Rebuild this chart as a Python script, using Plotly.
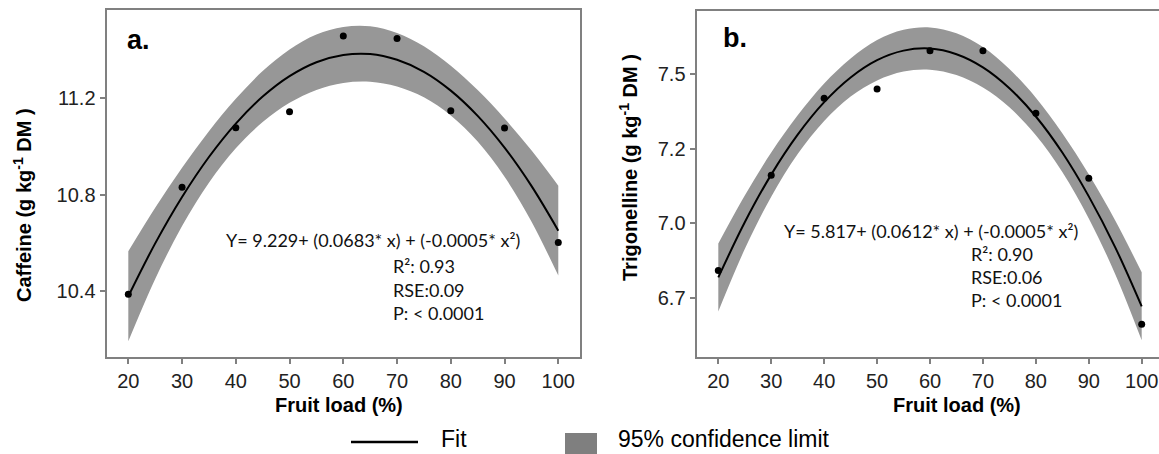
import plotly.graph_objects as go

W, H = 1159, 454

# ---------------- data ----------------
fruit_load = [20, 30, 40, 50, 60, 70, 80, 90, 100]
caffeine = [10.386, 10.830, 11.078, 11.144, 11.459, 11.449, 11.148, 11.077, 10.601]
trigonelline = [6.841, 7.161, 7.419, 7.450, 7.579, 7.579, 7.369, 7.151, 6.661]

fit_x = [20, 25, 30, 35, 40, 45, 50, 55, 60, 65, 70, 75, 80, 85, 90, 95, 100]
caffeine_fit = [10.377, 10.597, 10.790, 10.956, 11.095, 11.207, 11.292, 11.350, 11.380,
                11.384, 11.360, 11.310, 11.232, 11.127, 10.995, 10.836, 10.650]
caffeine_upper = [10.564, 10.745, 10.911, 11.063, 11.198, 11.313, 11.403, 11.465, 11.496,
                  11.499, 11.471, 11.416, 11.335, 11.234, 11.116, 10.984, 10.837]
caffeine_lower = [10.190, 10.449, 10.669, 10.849, 10.992, 11.101, 11.181, 11.235, 11.264,
                  11.269, 11.249, 11.204, 11.129, 11.020, 10.874, 10.688, 10.463]

trig_fit = [6.818, 7.003, 7.163, 7.297, 7.406, 7.489, 7.547, 7.579, 7.586,
            7.567, 7.523, 7.453, 7.358, 7.237, 7.090, 6.919, 6.721]
trig_upper = [6.932, 7.093, 7.237, 7.362, 7.469, 7.553, 7.615, 7.649, 7.657,
              7.637, 7.591, 7.517, 7.421, 7.302, 7.164, 7.009, 6.835]
trig_lower = [6.704, 6.913, 7.089, 7.232, 7.343, 7.425, 7.479, 7.509, 7.515,
              7.497, 7.455, 7.389, 7.295, 7.172, 7.016, 6.829, 6.607]

x_ticks = [20, 30, 40, 50, 60, 70, 80, 90, 100]
caf_ticks = [10.4, 10.8, 11.2]
caf_ticktext = ["10.4", "10.8", "11.2"]
trig_ticks = [6.75, 7.0, 7.25, 7.5]
trig_ticktext = ["6.7", "7.0", "7.2", "7.5"]

BAND = "#979797"
AXC = "#808080"
TICKFONT = dict(family="Liberation Sans, Arial", size=20, color="#222222")
ANNFONT = dict(family="Lato, Carlito, Calibri", size=18, color="#111111")

def px(x):
    return x / W

def py(y):
    return 1 - y / H

fig = go.Figure()

def add_panel(xa, ya, upper, lower, fit, pts):
    fig.add_trace(go.Scatter(x=fit_x, y=upper, mode="lines", line=dict(width=0, shape="spline", color=BAND),
                             xaxis=xa, yaxis=ya, showlegend=False, hoverinfo="skip"))
    fig.add_trace(go.Scatter(x=fit_x, y=lower, mode="lines", line=dict(width=0, shape="spline", color=BAND),
                             fill="tonexty", fillcolor=BAND,
                             xaxis=xa, yaxis=ya, showlegend=False, hoverinfo="skip"))
    fig.add_trace(go.Scatter(x=fit_x, y=fit, mode="lines", line=dict(width=2, shape="spline", color="black"),
                             xaxis=xa, yaxis=ya, showlegend=False))
    fig.add_trace(go.Scatter(x=fruit_load, y=pts, mode="markers", marker=dict(size=7, color="black"),
                             xaxis=xa, yaxis=ya, showlegend=False))

add_panel("x", "y", caffeine_upper, caffeine_lower, caffeine_fit, caffeine)
add_panel("x2", "y2", trig_upper, trig_lower, trig_fit, trigonelline)

common_x = dict(tickvals=x_ticks, ticks="outside", ticklen=6, tickcolor=AXC, tickwidth=1.5,
                showline=True, linecolor=AXC, linewidth=1.5, showgrid=False, zeroline=False,
                tickfont=TICKFONT)
common_y = dict(ticks="outside", ticklen=6, tickcolor=AXC, tickwidth=1.5,
                showline=True, linecolor=AXC, linewidth=1.5, showgrid=False, zeroline=False,
                tickfont=TICKFONT)

fig.update_layout(
    width=W, height=H, margin=dict(l=0, r=0, t=0, b=0),
    paper_bgcolor="white", plot_bgcolor="white",
    xaxis=dict(domain=[px(107.3), px(580)], range=[16.09, 104.04], mirror=True, anchor="y", **common_x),
    yaxis=dict(domain=[py(356.7), py(10)], range=[10.126, 11.567], mirror=True, anchor="x",
               tickvals=caf_ticks, ticktext=caf_ticktext, **common_y),
    xaxis2=dict(domain=[px(697.3), 1.0], range=[16.03, 103.27], mirror=True, anchor="y2", **common_x),
    yaxis2=dict(domain=[py(356.7), py(11)], range=[6.552, 7.712], mirror=False, anchor="x2",
                tickvals=trig_ticks, ticktext=trig_ticktext, **common_y),
)

ann = []
bold = dict(family="Liberation Sans, Arial", size=20, color="black")
# axis titles
ann.append(dict(text="<b>Fruit load (%)</b>", x=px(339), y=py(405), xref="paper", yref="paper",
                showarrow=False, font=bold, xanchor="center", yanchor="middle"))
ann.append(dict(text="<b>Fruit load (%)</b>", x=px(957), y=py(405), xref="paper", yref="paper",
                showarrow=False, font=bold, xanchor="center", yanchor="middle"))
ann.append(dict(text="<b>Caffeine (g kg<sup>-1</sup> DM )</b>", x=px(22), y=py(205), xref="paper", yref="paper",
                showarrow=False, font=bold, textangle=-90, xanchor="center", yanchor="middle"))
ann.append(dict(text="<b>Trigonelline (g kg<sup>-1</sup> DM )</b>", x=px(628), y=py(168), xref="paper", yref="paper",
                showarrow=False, font=bold, textangle=-90, xanchor="center", yanchor="middle"))
# panel labels
ann.append(dict(text="<b>a.</b>", x=px(125), y=py(40), xref="paper", yref="paper", showarrow=False,
                font=dict(family="Liberation Sans, Arial", size=27, color="black"), xanchor="left", yanchor="middle"))
ann.append(dict(text="<b>b.</b>", x=px(721), y=py(38), xref="paper", yref="paper", showarrow=False,
                font=dict(family="Liberation Sans, Arial", size=27, color="black"), xanchor="left", yanchor="middle"))
# equations
eq_a = ["Y= 9.229+ (0.0683* x) + (-0.0005* x²)", "R²: 0.93", "RSE:0.09", "P: < 0.0001"]
eq_b = ["Y= 5.817+ (0.0612* x) + (-0.0005* x²)", "R²: 0.90", "RSE:0.06", "P: < 0.0001"]
for i, (t, yy) in enumerate(zip(eq_a, [240, 266, 290, 313])):
    ann.append(dict(text=t, x=px(224 if i == 0 else 391), y=py(yy), xref="paper", yref="paper",
                    showarrow=False, font=ANNFONT, xanchor="left", yanchor="middle"))
for i, (t, yy) in enumerate(zip(eq_b, [231, 254, 277, 300])):
    ann.append(dict(text=t, x=px(782 if i == 0 else 969), y=py(yy), xref="paper", yref="paper",
                    showarrow=False, font=ANNFONT, xanchor="left", yanchor="middle"))
# legend
legfont = dict(family="Liberation Sans, Arial", size=23, color="black")
ann.append(dict(text="Fit", x=px(439), y=0.0, xref="paper", yref="paper", showarrow=False,
                font=legfont, xanchor="left", yanchor="bottom"))
ann.append(dict(text="95% confidence limit", x=px(616), y=0.0, xref="paper", yref="paper", showarrow=False,
                font=legfont, xanchor="left", yanchor="bottom"))
fig.update_layout(annotations=ann)

fig.update_layout(shapes=[
    dict(type="line", xref="paper", yref="paper", x0=px(351), x1=px(418), y0=py(442), y1=py(442),
         line=dict(color="black", width=2.5)),
    dict(type="rect", xref="paper", yref="paper", x0=px(565), x1=px(597), y0=py(433), y1=py(454),
         fillcolor="#7f7f7f", line=dict(width=0)),
])

fig.write_html("out.html")
